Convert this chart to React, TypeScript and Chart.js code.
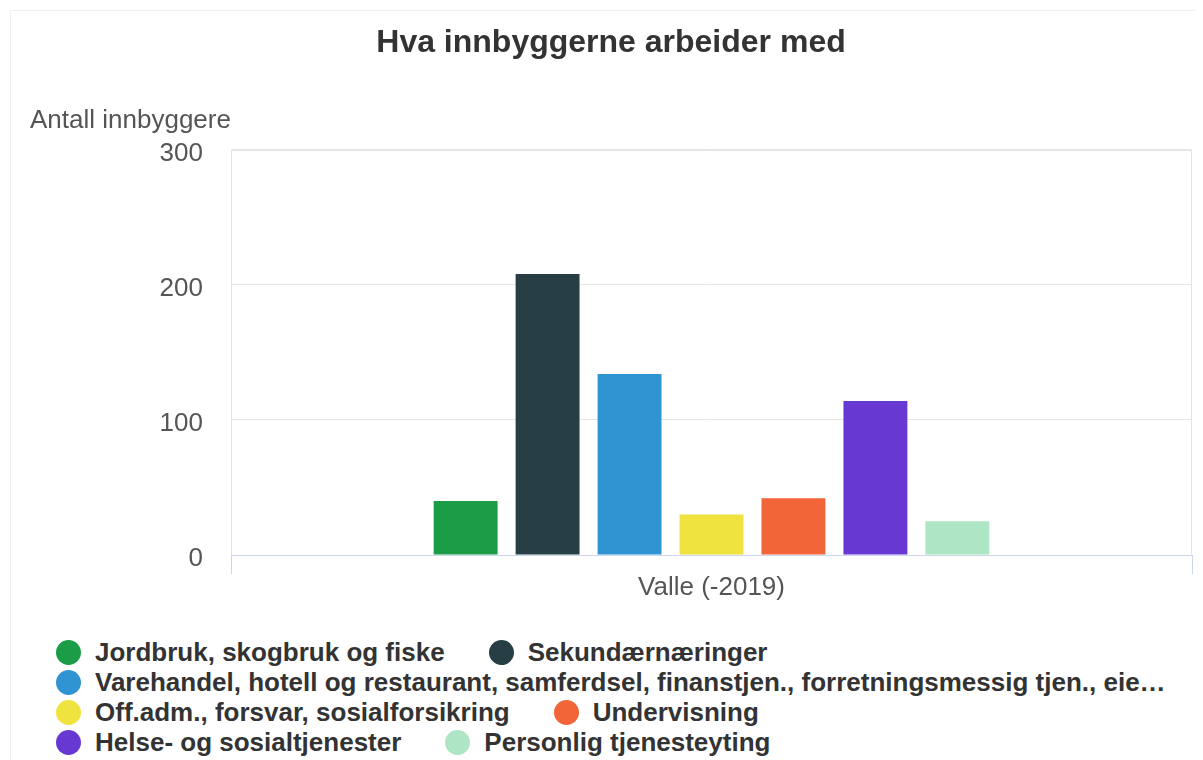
import React, { useEffect, useRef } from 'react';
import { Chart, registerables } from 'chart.js';

Chart.register(...registerables);

const chartTitle = 'Hva innbyggerne arbeider med';
const yAxisTitle = 'Antall innbyggere';
const categories = ['Valle (-2019)'];
const seriesNames = [
  'Jordbruk, skogbruk og fiske',
  'Sekundærnæringer',
  'Varehandel, hotell og restaurant, samferdsel, finanstjen., forretningsmessig tjen., eie…',
  'Off.adm., forsvar, sosialforsikring',
  'Undervisning',
  'Helse- og sosialtjenester',
  'Personlig tjenesteyting',
];
const seriesValues = [40, 208, 134, 30, 42, 114, 25];
const seriesColors = ['#1b9c47', '#263e44', '#3194d2', '#efe43f', '#f26539', '#6838d3', '#aee5c4'];
const yTickValues = [0, 100, 200, 300];

const FONT = '"Liberation Sans", Arial, Helvetica, sans-serif';

const plotBorder = {
  id: 'plotBorder',
  beforeDatasetsDraw(chart: any) {
    const { ctx, chartArea: a } = chart;
    const l = Math.round(a.left) + 0.5;
    const r = Math.round(a.right) - 0.5;
    const t = Math.round(a.top) + 0.5;
    const b = Math.round(a.bottom);
    ctx.save();
    ctx.strokeStyle = '#e3e3e3';
    ctx.lineWidth = 1;
    ctx.beginPath();
    ctx.moveTo(l, b);
    ctx.lineTo(l, t);
    ctx.lineTo(r, t);
    ctx.lineTo(r, b);
    ctx.stroke();
    ctx.restore();
  },
};

export default function App() {
  const canvasRef = useRef<HTMLCanvasElement | null>(null);

  useEffect(() => {
    const prevMarginBottom = document.body.style.marginBottom;
    document.body.style.marginBottom = '0px';
    if (!canvasRef.current) return;
    const chart = new Chart(canvasRef.current, {
      type: 'bar',
      data: {
        labels: categories,
        datasets: seriesNames.map((name, i) => ({
          label: name,
          data: [seriesValues[i]],
          backgroundColor: seriesColors[i],
          borderWidth: 0,
          categoryPercentage: 0.597,
          barPercentage: 0.78,
        })),
      },
      options: {
        responsive: true,
        maintainAspectRatio: false,
        animation: false,
        layout: { padding: { left: 19, right: 8, top: 0, bottom: 0 } },
        plugins: {
          legend: { display: false },
          tooltip: { enabled: false },
          title: {
            display: true,
            text: chartTitle,
            color: '#333333',
            font: { family: FONT, size: 32, weight: 'bold' },
            padding: { top: 13, bottom: 0 },
          },
          subtitle: {
            display: true,
            text: yAxisTitle,
            align: 'start',
            color: '#555555',
            font: { family: FONT, size: 26 },
            padding: { top: 43, bottom: 13 },
          },
        },
        scales: {
          x: {
            offset: true,
            grid: {
              display: true,
              offset: true,
              drawOnChartArea: false,
              drawTicks: true,
              tickLength: 19,
              color: '#ccd6eb',
            },
            border: { display: true, color: '#ccd6eb', width: 1 },
            ticks: {
              color: '#555555',
              font: { family: FONT, size: 26 },
              padding: -2,
            },
            afterFit(scale: any) {
              scale.height = 56;
            },
          },
          y: {
            min: 0,
            max: 300,
            afterBuildTicks(scale: any) {
              scale.ticks = yTickValues.map((v) => ({ value: v }));
            },
            grid: { color: '#e6e6e6', drawTicks: false },
            border: { display: false },
            ticks: {
              color: '#555555',
              font: { family: FONT, size: 26 },
              padding: 28,
              labelOffset: 4,
            },
            afterFit(scale: any) {
              scale.width = 201;
            },
          },
        },
      },
      plugins: [plotBorder],
    });
    return () => {
      chart.destroy();
      document.body.style.marginBottom = prevMarginBottom;
    };
  }, []);

  return (
    <div style={{ paddingTop: 2, paddingLeft: 2 }}>
      <div
        style={{
          position: 'relative',
          width: 1189,
          height: 749,
          borderTop: '1px solid #f0f0f0',
          borderLeft: '1px solid #f0f0f0',
          borderRight: '1px solid #f0f0f0',
          background: '#ffffff',
          overflow: 'hidden',
        }}
      >
        <div style={{ position: 'absolute', left: 0, top: 0, width: 1189, height: 600 }}>
          <canvas ref={canvasRef} />
        </div>
        <div
          style={{
            position: 'absolute',
            left: 45,
            top: 626,
            width: 1080,
            display: 'flex',
            flexWrap: 'wrap',
            fontFamily: FONT,
            fontWeight: 'bold',
            fontSize: 26,
            lineHeight: '30px',
            color: '#333333',
          }}
        >
          {seriesNames.map((name, i) => (
            <div
              key={name}
              style={{ display: 'flex', alignItems: 'center', marginRight: 44, whiteSpace: 'nowrap', height: 30 }}
            >
              <span
                style={{
                  display: 'inline-block',
                  width: 25,
                  height: 25,
                  borderRadius: '50%',
                  background: seriesColors[i],
                  marginRight: 14,
                  flex: '0 0 auto',
                }}
              />
              <span>{name}</span>
            </div>
          ))}
        </div>
      </div>
    </div>
  );
}
